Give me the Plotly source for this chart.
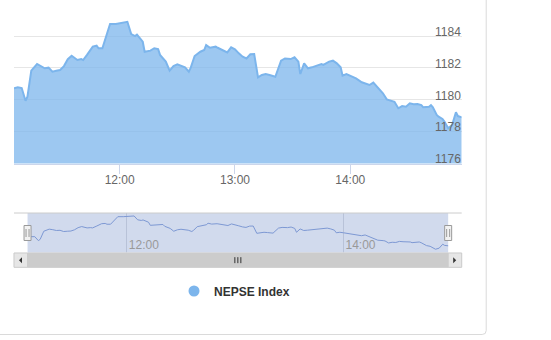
import plotly.graph_objects as go
import pandas as pd

W, H = 551, 340
DATE = "2021-03-01"
SERIES_NAME = "NEPSE Index"

TIMES = [
    "11:05", "11:07", "11:09", "11:11", "11:12", "11:14", "11:17", "11:19", "11:21", "11:23",
    "11:25", "11:27", "11:29", "11:31", "11:33", "11:35", "11:36", "11:38", "11:40", "11:41",
    "11:43", "11:46", "11:48", "11:49", "11:51", "11:53", "11:55", "11:58", "12:00", "12:02",
    "12:04", "12:06", "12:08", "12:09", "12:11", "12:12", "12:13", "12:16", "12:18", "12:20",
    "12:21", "12:24", "12:26", "12:28", "12:30", "12:32", "12:34", "12:36", "12:37", "12:39",
    "12:42", "12:44", "12:45", "12:47", "12:50", "12:51", "12:54", "12:56", "12:58", "13:00",
    "13:02", "13:04", "13:06", "13:08", "13:10", "13:12", "13:14", "13:16", "13:18", "13:21",
    "13:24", "13:26", "13:29", "13:31", "13:33", "13:34", "13:36", "13:38", "13:40", "13:43",
    "13:45", "13:46", "13:49", "13:51", "13:53", "13:55", "13:56", "13:58", "14:00", "14:03",
    "14:06", "14:09", "14:10", "14:12", "14:14", "14:17", "14:19", "14:22", "14:23", "14:25",
    "14:27", "14:29", "14:31", "14:33", "14:35", "14:37", "14:38", "14:41", "14:42", "14:43",
    "14:45", "14:46", "14:48", "14:49", "14:51", "14:53", "14:55", "14:56", "14:58",
]

VALUES = [
    1180.72, 1180.79, 1180.74, 1179.94, 1180.20, 1181.83, 1182.25, 1182.14, 1181.98, 1182.02,
    1181.77, 1181.83, 1181.87, 1182.12, 1182.55, 1182.77, 1182.67, 1182.50, 1182.56, 1182.50,
    1182.82, 1183.34, 1183.40, 1183.24, 1183.24, 1184.07, 1184.76, 1184.76, 1184.80, 1184.87,
    1184.90, 1184.13, 1184.00, 1184.10, 1183.80, 1183.65, 1183.02, 1183.09, 1183.24, 1183.19,
    1182.82, 1182.40, 1181.83, 1182.12, 1182.23, 1182.14, 1182.04, 1181.77, 1182.02, 1182.75,
    1183.02, 1183.13, 1183.44, 1183.27, 1183.34, 1183.27, 1183.09, 1182.98, 1183.30, 1183.17,
    1182.92, 1182.71, 1182.60, 1182.86, 1182.88, 1181.41, 1181.56, 1181.62, 1181.56, 1181.45,
    1182.46, 1182.60, 1182.56, 1182.67, 1182.40, 1181.62, 1182.29, 1181.98, 1182.04, 1182.14,
    1182.25, 1182.19, 1182.40, 1182.46, 1182.29, 1182.04, 1181.52, 1181.62, 1181.52, 1181.35,
    1181.10, 1180.99, 1180.93, 1181.08, 1180.79, 1180.41, 1180.03, 1179.94, 1179.88, 1179.47,
    1179.61, 1179.57, 1179.78, 1179.72, 1179.74, 1179.67, 1179.53, 1179.57, 1179.67, 1179.53,
    1179.05, 1178.94, 1178.80, 1178.63, 1178.21, 1178.42, 1179.22, 1178.98, 1178.90,
]

Y_TICKS = [1176, 1178, 1180, 1182, 1184, 1186]
Y_LABELED = [1176, 1178, 1180, 1182, 1184]
Y_RANGE = [1176, 1186]
NAV_Y_RANGE = [1177.45, 1185.5]

FONT = "Liberation Sans, Arial, sans-serif"

t = pd.to_datetime([f"{DATE} {s}" for s in TIMES])
t0, t1 = t[0], t[-1]
tmid = t0 + (t1 - t0) / 2
nav_pad = pd.Timedelta(minutes=7.5)


def px(x):
    return x / W


def py(y):
    return 1 - y / H


X_DOM = [px(14), px(461.7)]
NAV_W = 461.7 - 14

fig = go.Figure()

# main area series
fig.add_trace(go.Scatter(
    x=t, y=VALUES, mode="lines", name=SERIES_NAME,
    line=dict(color="#7cb5ec", width=2),
    fill="tozeroy", fillcolor="rgba(124,181,236,0.75)",
    showlegend=False,
))
# navigator series
fig.add_trace(go.Scatter(
    x=t, y=VALUES, mode="lines", xaxis="x2", yaxis="y2",
    line=dict(color="#7d98d3", width=1), showlegend=False, hoverinfo="skip",
))
# legend entry
fig.add_trace(go.Scatter(
    x=[None], y=[None], mode="markers", name=SERIES_NAME,
    marker=dict(color="#7cb5ec", size=11, symbol="circle"),
    showlegend=True,
))

shapes = []
# navigator mask (selected range)
shapes.append(dict(type="rect", xref="x2", yref="y2 domain", x0=t0, x1=t1, y0=0, y1=1,
                   fillcolor="rgba(102,133,194,0.3)", line=dict(width=0), layer="below"))
# navigator top outline
shapes.append(dict(type="line", xref="x2 domain", yref="y2 domain", x0=0, x1=1, y0=1, y1=1,
                   line=dict(color="#cccccc", width=1)))
# scrollbar track
sb_top, sb_bot = 253, 267.3
shapes.append(dict(type="rect", xref="x2 domain", yref="paper", x0=0, x1=1,
                   y0=py(sb_bot), y1=py(sb_top), fillcolor="#f2f2f2", line=dict(color="#f2f2f2", width=1)))
# scrollbar bar
shapes.append(dict(type="rect", xref="x2", yref="paper", x0=t0, x1=t1,
                   y0=py(sb_bot), y1=py(sb_top), fillcolor="#cccccc", line=dict(color="#cccccc", width=1)))
# scrollbar buttons
btn = 13.5 / NAV_W
for a, b in [(0, btn), (1 - btn, 1)]:
    shapes.append(dict(type="rect", xref="x2 domain", yref="paper", x0=a, x1=b,
                       y0=py(sb_bot), y1=py(sb_top), fillcolor="#e6e6e6", line=dict(color="#cccccc", width=1)))
# arrows
cy = (sb_top + sb_bot) / 2
lx = 20.5
rx = 454.7
shapes.append(dict(type="path", xref="paper", yref="paper",
                   path=f"M {px(lx-1.5)} {py(cy)} L {px(lx+1.5)} {py(cy-3)} L {px(lx+1.5)} {py(cy+3)} Z",
                   fillcolor="#333333", line=dict(width=0)))
shapes.append(dict(type="path", xref="paper", yref="paper",
                   path=f"M {px(rx+1.5)} {py(cy)} L {px(rx-1.5)} {py(cy-3)} L {px(rx-1.5)} {py(cy+3)} Z",
                   fillcolor="#333333", line=dict(width=0)))
# rifles
for off in (-3, 0, 3):
    shapes.append(dict(type="line", xref="x2", yref="paper", xsizemode="pixel", xanchor=tmid,
                       x0=off, x1=off, y0=py(cy + 3), y1=py(cy - 3), line=dict(color="#333333", width=1)))
# navigator handles
for anchor in (t0, t1):
    shapes.append(dict(type="rect", xref="x2", yref="paper", xsizemode="pixel", xanchor=anchor,
                       x0=-3.5, x1=3.5, y0=py(240.5), y1=py(225.5),
                       fillcolor="#f2f2f2", line=dict(color="#999999", width=1)))
    for off in (-1.5, 1.5):
        shapes.append(dict(type="line", xref="x2", yref="paper", xsizemode="pixel", xanchor=anchor,
                           x0=off, x1=off, y0=py(237), y1=py(229), line=dict(color="#999999", width=1)))
# card border
cr = 4
bx, by = 486.2, 334.5
shapes.append(dict(type="path", xref="paper", yref="paper",
                   path=(f"M {px(0)} {py(by)} L {px(bx-cr)} {py(by)} "
                         f"Q {px(bx)} {py(by)} {px(bx)} {py(by-cr)} L {px(bx)} {py(0)}"),
                   line=dict(color="#dadada", width=1)))

# y-axis labels (inside, right aligned, just above each gridline)
annotations = [
    dict(text=str(v), xref="paper", yref="y", x=px(462.5), y=v,
         xanchor="right", yanchor="middle", yshift=4.3, showarrow=False,
         font=dict(family=FONT, size=12, color="#666666"))
    for v in Y_LABELED
]

fig.update_layout(
    width=W, height=H,
    margin=dict(l=0, r=0, t=0, b=0),
    paper_bgcolor="white", plot_bgcolor="rgba(0,0,0,0)",
    font=dict(family=FONT, size=12, color="#666666"),
    xaxis=dict(
        domain=X_DOM, range=[t0, t1], type="date", anchor="y",
        tickformat="%H:%M", dtick=3600000, tick0=f"{DATE} 00:00",
        ticks="outside", ticklen=9, tickcolor="#ccd6eb",
        ticklabelstandoff=-4,
        showgrid=False, showline=True, linecolor="#ccd6eb", zeroline=False,
        tickfont=dict(family=FONT, size=12, color="#666666"),
    ),
    yaxis=dict(
        domain=[py(163.5), py(4.3)], range=Y_RANGE, anchor="x", side="right",
        tickvals=Y_TICKS, showticklabels=False, ticks="",
        gridcolor="#e6e6e6", gridwidth=1, showline=False, zeroline=False,
    ),
    xaxis2=dict(
        domain=X_DOM, range=[t0 - nav_pad, t1 + nav_pad], type="date", anchor="y2",
        tickformat="%H:%M", dtick=7200000, tick0=f"{DATE} 00:00",
        ticklabelposition="inside right", ticks="",
        ticklabelstandoff=-4, ticklabelshift=2,
        showgrid=True, gridcolor="#b8c2d8", showline=False, zeroline=False,
        tickfont=dict(family=FONT, size=12, color="#999999"),
    ),
    yaxis2=dict(
        domain=[py(253), py(213)], range=NAV_Y_RANGE, anchor="x2", visible=False,
    ),
    showlegend=True,
    legend=dict(
        orientation="h", x=px(234.5), xanchor="center", y=py(291), yanchor="middle",
        font=dict(family=FONT, size=12, color="#333333", weight="bold"),
        bgcolor="rgba(0,0,0,0)", itemwidth=30,
    ),
    shapes=shapes,
    annotations=annotations,
)

fig.write_html("out.html")
